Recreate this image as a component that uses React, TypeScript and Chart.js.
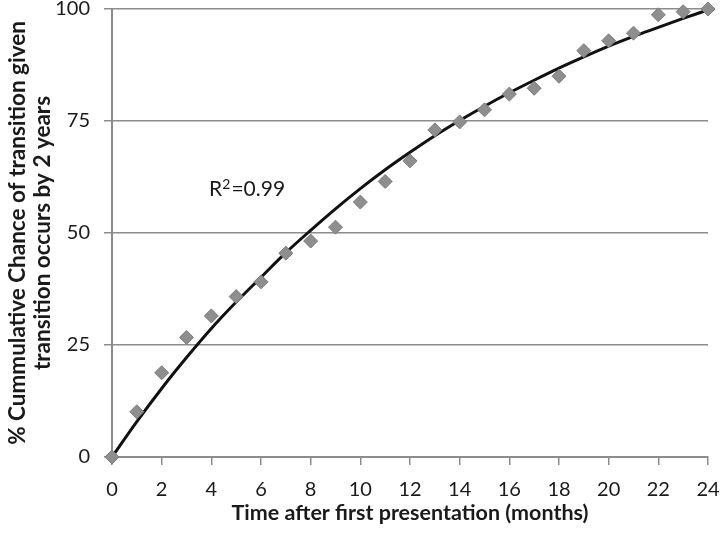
import React, { useEffect, useRef } from "react";
import { Chart, registerables } from "chart.js";

Chart.register(...registerables);

const months = [0, 1, 2, 3, 4, 5, 6, 7, 8, 9, 10, 11, 12, 13, 14, 15, 16, 17, 18, 19, 20, 21, 22, 23, 24];
const observed = [0, 10.1, 18.8, 26.7, 31.5, 35.8, 39.1, 45.5, 48.2, 51.3, 56.9, 61.5, 66.1, 73.0, 74.8, 77.5, 81.0, 82.3, 85.0, 90.7, 92.9, 94.6, 98.7, 99.4, 100];
const fitted = [0, 7.9, 15.3, 22.2, 28.7, 34.6, 40.1, 45.6, 50.6, 55.4, 59.9, 64.1, 68.0, 71.7, 75.1, 78.3, 81.3, 84.1, 86.8, 89.3, 91.7, 93.9, 95.9, 97.9, 99.8];
const yTicks = [0, 25, 50, 75, 100];
const annotationParts = ["R", "2", "=0.99"];
const annotationPos = { x: 5.44, y: 60 };

const FONT = "Lato, 'Open Sans', sans-serif";
const TEXT = "#1a1a1a";
const GRID = "#8c8c8c";

export default function App() {
  const ref = useRef<HTMLCanvasElement | null>(null);
  useEffect(() => {
    if (!ref.current) return;
    const annot = {
      id: "annot",
      afterDatasetsDraw(chart: any) {
        const { ctx, scales } = chart;
        const cx = scales.x.getPixelForValue(annotationPos.x);
        const cy = scales.y.getPixelForValue(annotationPos.y);
        ctx.save();
        ctx.fillStyle = TEXT;
        ctx.textBaseline = "alphabetic";
        ctx.textAlign = "left";
        const big = `21px ${FONT}`;
        const small = `14px ${FONT}`;
        ctx.font = big;
        const w0 = ctx.measureText(annotationParts[0]).width;
        const w2 = ctx.measureText(annotationParts[2]).width;
        ctx.font = small;
        const w1 = ctx.measureText(annotationParts[1]).width;
        const total = w0 + w1 + 1 + w2;
        let x = cx - total / 2;
        const base = cy + 8;
        ctx.font = big;
        ctx.fillText(annotationParts[0], x, base);
        x += w0;
        ctx.font = small;
        ctx.fillText(annotationParts[1], x, base - 7);
        x += w1 + 1;
        ctx.font = big;
        ctx.fillText(annotationParts[2], x, base);
        ctx.restore();
      },
    };
    const chart = new Chart(ref.current, {
      type: "scatter",
      data: {
        datasets: [
          {
            label: "fit",
            data: months.map((m, i) => ({ x: m, y: fitted[i] })),
            showLine: true,
            borderColor: "#111111",
            borderWidth: 3,
            pointRadius: 0,
            tension: 0.4,
            cubicInterpolationMode: "monotone",
            order: 1,
          },
          {
            label: "observed",
            data: months.map((m, i) => ({ x: m, y: observed[i] })),
            showLine: false,
            pointStyle: "rectRot",
            pointRadius: 7,
            backgroundColor: "#8e8e8e",
            borderColor: "#7c7c7c",
            borderWidth: 1,
            order: 0,
          },
        ],
      },
      options: {
        animation: false,
        responsive: true,
        maintainAspectRatio: false,
        clip: false as any,
        layout: { padding: 0 },
        plugins: { legend: { display: false }, tooltip: { enabled: false } },
        scales: {
          x: {
            type: "linear",
            min: 0,
            max: 24,
            afterFit: (axis: any) => {
              axis.height = 76;
              axis.paddingRight = 12;
              axis.paddingLeft = 0;
            },
            ticks: { stepSize: 2, color: TEXT, font: { family: FONT, size: 20, lineHeight: 1.0 }, padding: 15 },
            grid: { drawOnChartArea: false, drawTicks: true, tickLength: 8, color: GRID, lineWidth: 1.5 },
            border: { color: GRID, width: 2 },
            title: {
              display: true,
              text: "Time after first presentation (months)",
              color: TEXT,
              font: { family: FONT, size: 21.5, weight: "bold", lineHeight: 1.2 },
              padding: { top: 4, bottom: 7 },
            },
          },
          y: {
            type: "linear",
            min: 0,
            max: 100,
            afterBuildTicks: (axis: any) => {
              axis.ticks = yTicks.map((v) => ({ value: v }));
            },
            afterFit: (axis: any) => {
              axis.width = 112;
              axis.paddingTop = 9;
              axis.paddingBottom = 0;
            },
            ticks: { color: TEXT, font: { family: FONT, size: 20, lineHeight: 0.85 }, padding: 14 },
            grid: { color: GRID, lineWidth: 1.5, tickLength: 8 },
            border: { color: GRID, width: 2 },
            title: {
              display: true,
              text: ["% Cummulative Chance of transition given", "transition occurs by 2 years"],
              color: TEXT,
              font: { family: FONT, size: 22.5, weight: "bold", lineHeight: 1.11 },
              padding: { top: 5, bottom: 0 },
            },
          },
        },
      },
      plugins: [annot],
    });
    return () => chart.destroy();
  }, []);
  return (
    <div style={{ position: "absolute", left: 0, top: 0, width: 720, height: 533, background: "#fff" }}>
      <canvas ref={ref} />
    </div>
  );
}
